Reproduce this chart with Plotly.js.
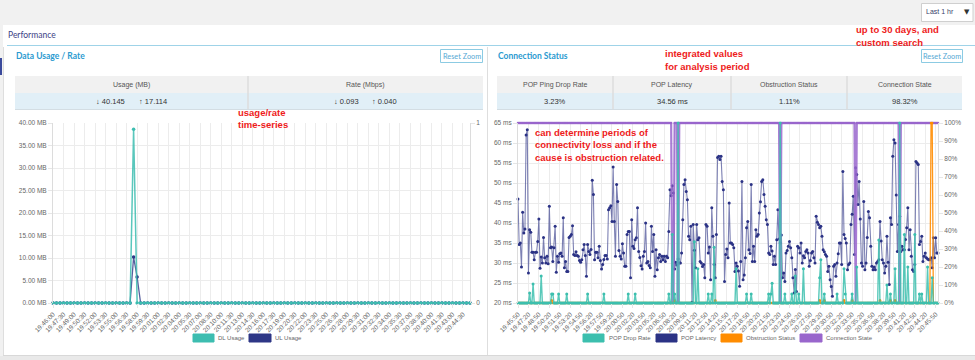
<!DOCTYPE html>
<html><head><meta charset="utf-8">
<script src="https://cdn.plot.ly/plotly-3.0.1.min.js"></script>
<style>html,body{margin:0;padding:0;background:#f1f1f1;overflow:hidden}#chart{width:975px;height:360px}</style>
</head><body><div id="chart"></div>
<script>
// ---------------- DATA ----------------
const usageTickLabels = ['19:46:00','19:47:30','19:49:00','19:50:30','19:52:00','19:53:30','19:55:00','19:56:30','19:58:00','19:59:30','20:01:00','20:02:30','20:04:00','20:05:30','20:07:00','20:08:30','20:10:00','20:11:30','20:13:00','20:14:30','20:16:00','20:17:30','20:19:00','20:20:30','20:22:00','20:23:30','20:25:00','20:26:30','20:28:00','20:29:30','20:31:00','20:32:30','20:34:00','20:35:30','20:37:00','20:38:30','20:40:00','20:41:30','20:43:00','20:44:30'];
const dlUsage = [
0,0,0,0,0,0,0,0,0,0,0,0,0,0,0,0,0,0,0,0,
0,0,0,38.6,0,0,0,0,0,0,0,0,0,0,0,0,0,0,0,0,
0,0,0,0,0,0,0,0,0,0,0,0,0,0,0,0,0,0,0,0,
0,0,0,0,0,0,0,0,0,0,0,0,0,0,0,0,0,0,0,0,
0,0,0,0,0,0,0,0,0,0,0,0,0,0,0,0,0,0,0,0,
0,0,0,0,0,0,0,0,0,0,0,0,0,0,0,0,0,0,0,0];
const ulUsage = [
0,0,0,0,0,0,0,0,0,0,0,0,0,0,0,0,0,0,0,0,
0,0,0,10.2,5.8,0,0,0,0,0,0,0,0,0,0,0,0,0,0,0,
0,0,0,0,0,0,0,0,0,0,0,0,0,0,0,0,0,0,0,0,
0,0,0,0,0,0,0,0,0,0,0,0,0,0,0,0,0,0,0,0,
0,0,0,0,0,0,0,0,0,0,0,0,0,0,0,0,0,0,0,0,
0,0,0,0,0,0,0,0,0,0,0,0,0,0,0,0,0,0,0,0];
const usageHeaders = ['Usage (MB)','Rate (Mbps)'];
const usageDown = ['40.145','0.093'];
const usageUp = ['17.114','0.040'];

const latencyTickLabels = ['19:45:50','19:47:20','19:48:50','19:50:20','19:51:50','19:53:20','19:54:50','19:56:20','19:57:50','19:59:20','20:00:50','20:02:20','20:03:50','20:05:20','20:06:50','20:08:20','20:09:50','20:11:20','20:12:50','20:14:20','20:15:50','20:17:20','20:18:50','20:20:20','20:21:50','20:23:20','20:24:50','20:26:20','20:27:50','20:29:20','20:30:50','20:32:20','20:33:50','20:35:20','20:36:50','20:38:20','20:39:50','20:41:20','20:42:50','20:44:20','20:45:50'];
const popLatency = [
46,34.6,35,29,42.7,37.5,38.5,62,63.3,27.5,38.3,37.7,32.7,32.7,30.8,32.7,32.7,35.4,41,28.7,
31.5,30,36.4,31.3,30,31.7,29.8,44.2,33.8,34,30.4,33.8,39.2,27.7,31.7,30.2,32.3,32.5,31.7,41.3,
28.8,30.4,27.9,27.9,36.4,36.7,37.1,39.3,32.1,31.9,32.8,31.9,31.7,30.6,30.2,30.8,33.3,34.6,
31.9,26.7,34.6,32.9,32.1,33.4,50.7,47.1,30.8,32.7,
32.7,31.3,34.2,30.6,28.5,29.6,30.9,31.9,31.9,31,
43.3,43.8,44.3,40.4,54,40.4,31.7,49.6,45.4,33.1,
31.7,31,34.8,32.5,29.2,29.2,37.1,37.9,37.9,26.3,
40.8,34.2,33.6,35.8,36.3,43.8,32.9,31.4,29.3,28.5,
31.7,32.9,40,30,30.4,29.4,28.8,39.2,32.9,37.1,
26.7,33.3,28.3,31.3,32.1,30.4,31.7,30.8,31.7,30.4,
31.7,31.3,37.9,48.3,46.8,49.3,
47.5,28.5,30.2,29.5,31,30,
30,32.5,40.8,49.6,50.8,47.9,45.8,36.7,35.8,39.2,
20.2,39.6,33.2,28.8,39.6,35.8,36.3,30.4,30,29.1,
29.6,26.3,39.6,39.2,32.5,34,25.8,43.8,36.7,29.6,
26.3,37.1,56.4,56.7,55.9,56.7,50.4,48.3,25.4,32.1,
33.5,31.3,45,35,35,34.6,33.8,27.9,30,29.2,
28,24.2,30.4,50.4,25.8,27,31.3,38.8,40.4,33.3,
32.4,49.6,30.4,34.2,30.4,38.3,36.7,37.1,42.5,45.3,
50.4,50.8,47.1,44.2,40.8,39.6,32.5,32.1,34.2,33,
29.6,31.7,29.6,35.8,43.3,36,
35,37,26.3,27.5,25.4,32.5,33.1,34.2,35.4,33.8,
31.3,26.3,22.5,28.4,22.9,34.2,33.8,32.5,35,30,
31.8,31.3,32.9,33.3,32.5,29.2,30.6,32.5,32.9,31.3,
30,41.7,40.2,39.6,38.8,39.2,36.7,33.3,32.8,32.1,
31.7,27.9,29.2,25.8,24.1,21.7,29.2,29.6,26.7,30,
32.3,35,35,29.6,52.9,37.1,36.1,35,28.3,29.6,
30,39.6,42.2,46.7,32.1,53.8,52.1,44.6,50.4,41,
30,29.2,45.4,28.3,30,36.4,42.9,41.3,34.2,29.2,
28.3,29,28.3,30,30.4,30.8,40.4,35.5,30.8,30,
27.5,29.2,36.7,30.2,24.6,41.3,39.6,56.7,60.8,60,
47,32.9,39.6,41.7,32.9,34.2,33.3,33.3,35.9,38.8,
43.8,33.3,38.3,31.7,28.3,27.9,29.6,55.4,55,54.6,
34.6,35.4,36.7,30.4,31.7,32.5,31.3,31,30.8,30.8,
31.3,28.8,36.3,31.3,36.3,32.5,32.5];
const popDropRate = [
0,0,0,0,0,0,0,0,0,0,5.5,0,0,10.5,0,0,0,0,0,0,
15,0,0,0,0,0,0,0,0,5,5,0,0,0,0,5,0,0,0,0,
0,0,5,0,0,0,0,0,0,0,0,0,0,0,0,0,0,0,0,0,
5,0,0,0,0,0,0,0,0,0,0,0,0,0,5,0,0,0,0,0,
0,0,0,0,0,0,0,0,0,0,0,0,0,0,0,5,0,0,0,0,
0,5,0,0,0,0,0,0,0,0,0,0,0,0,0,0,0,0,0,0,
0,0,0,0,0,0,0,0,0,0,5,0,0,38,0,5,0,0,100,0,
0,0,0,0,0,0,0,0,0,0,0,0,34,0,0,19,0,0,0,0,
0,0,0,0,5,0,0,5,0,31,0,0,0,0,0,0,0,0,0,0,
0,0,0,0,0,0,0,0,19,0,0,0,0,0,0,0,0,5,0,0,
0,5,0,0,0,0,0,0,0,0,0,0,0,0,0,0,5,0,5,11,
0,0,0,0,0,0,100,0,0,0,5,0,0,0,0,0,5,0,0,15,
0,0,5,0,0,0,19,0,0,0,0,0,0,0,0,0,0,0,0,0,
14,24,0,0,5,0,0,0,0,0,0,0,0,0,0,5,0,0,0,0,
0,19,5,0,0,0,0,0,5,0,0,0,20,0,0,0,0,0,0,0,
0,0,0,0,0,0,0,0,0,0,0,35,0,0,0,0,0,0,10,0,
0,5,0,0,0,19,0,0,0,100,0,0,0,38,0,0,20,0,0,0,
0,0,38,0,0,0,5,0,5,0,0,0,0,20,0,0,0,14,0,0,
0,0,0];
const obstructionStatus = [
0,0,0,0,0,0,0,0,0,0,0,0,0,0,0,0,0,0,0,0,
0,0,0,0,0,0,0,0,0,1.5,0,0,0,0,0,0,0,0,0,0,
0,0,0,0,0,0,0,0,0,0,0,0,0,0,0,0,0,0,0,0,
0,0,0,0,0,0,0,0,0,0,0,0,0,0,0,0,0,0,0,0,
0,0,0,0,0,0,0,0,0,0,0,0,0,0,0,0,0,0,0,0,
0,0,0,0,0,0,0,0,0,0,0,0,0,0,0,0,0,0,0,0,
0,0,0,0,0,0,0,0,0,0,0,0,0,0,0,1.5,0,0,0,0,
0,0,0,0,0,0,0,0,0,0,0,0,0,0,0,0,0,0,0,0,
0,0,0,0,0,0,0,0,0,0,1.5,0,0,0,0,0,0,0,0,0,
0,0,0,0,0,0,0,0,0,0,0,0,0,0,0,0,0,0,0,0,
0,0,0,0,0,0,0,0,0,0,0,0,0,0,0,0,0,0,0,0,
0,0,0,0,0,0,0,0,0,0,0,0,0,0,0,0,0,0,0,0,
0,0,0,0,0,0,0,0,0,0,0,0,0,0,0,0,0,0,0,0,
1.5,0,0,0,1.5,0,0,0,0,0,0,0,0,0,0,0,0,0,0,0,
0,1.5,0,0,0,0,0,0,1.5,0,0,0,0,0,0,0,0,0,0,0,
0,0,0,0,0,0,0,0,0,0,0,0,1.5,0,0,0,0,0,0,0,
0,1.5,0,0,0,1.5,0,0,0,0,0,0,0,0,0,0,0,0,0,0,
0,0,0,0,0,0,0,0,0,0,0,0,0,0,0,0,100,100,0,0,
0,0,0];
const connectionState = [
100,100,100,100,100,100,100,100,100,100,100,100,100,100,100,100,100,100,100,100,
100,100,100,100,100,100,100,100,100,100,100,100,100,100,100,100,100,100,100,100,
100,100,100,100,100,100,100,100,100,100,100,100,100,100,100,100,100,100,100,100,
100,100,100,100,100,100,100,100,100,100,100,100,100,100,100,100,100,100,100,100,
100,100,100,100,100,100,100,100,100,100,100,100,100,100,100,100,100,100,100,100,
100,100,100,100,100,100,100,100,100,100,100,100,100,100,100,100,100,100,100,100,
100,100,100,100,100,100,100,100,100,100,100,100,100,0,0,100,100,100,0,100,
100,100,100,100,100,100,100,100,100,100,100,100,100,100,100,100,100,100,100,100,
100,100,100,100,100,100,100,100,100,100,100,100,100,100,100,100,100,100,100,100,
100,100,100,100,100,100,100,100,100,100,100,100,100,100,100,100,100,100,100,100,
100,100,100,100,100,100,100,100,100,100,100,100,100,100,100,100,100,100,100,100,
100,100,100,100,100,100,0,100,100,100,100,100,100,100,100,100,100,100,100,100,
100,100,100,100,100,100,100,100,100,100,100,100,100,100,100,100,100,100,100,100,
100,100,100,100,100,100,100,100,100,100,100,100,100,100,100,100,100,100,100,100,
100,100,100,100,100,100,100,100,100,100,100,0,100,100,100,100,100,100,100,100,
100,100,100,100,100,100,100,100,100,100,100,100,100,100,100,100,100,100,100,100,
100,100,100,100,100,100,100,100,100,0,100,100,100,100,100,100,100,100,100,100,
100,100,100,100,100,100,100,100,100,100,100,100,100,100,100,100,100,100,100,100,
100,100,100];
const statusHeaders = ['POP Ping Drop Rate','POP Latency','Obstruction Status','Connection State'];
const statusValues = ['3.23%','34.56 ms','1.11%','98.32%'];

// ---------------- LAYOUT HELPERS ----------------
const W = 975, H = 360;
const fx = v => v / W, fy = v => 1 - v / H;
const TICKFONT = 'Liberation Sans, Arial, sans-serif';
const UIFONT = 'Lato, Open Sans, sans-serif';
const REDFONT = 'Liberation Sans, Arial, sans-serif';
const C = {dl:'#3dbdb0', ul:'#2e3786', drop:'#3cbfae', lat:'#2b3285', obs:'#ff8c00', conn:'#9966cc'};

function box(x0, y0, x1, y1, fill, stroke, sw) {
  return {type:'rect', xref:'paper', yref:'paper', x0:fx(x0), x1:fx(x1), y0:fy(y1), y1:fy(y0),
    fillcolor: fill || 'rgba(0,0,0,0)', line:{color: stroke || 'rgba(0,0,0,0)', width: stroke ? (sw || 1) : 0}, layer:'below'};
}
function seg(x0, y0, x1, y1, color, w) {
  return {type:'line', xref:'paper', yref:'paper', x0:fx(x0), x1:fx(x1), y0:fy(y0), y1:fy(y1), line:{color, width:w || 1}, layer:'below'};
}
function label(x, y, text, o) {
  o = o || {};
  return {xref:'paper', yref:'paper', x:fx(x), y:fy(y), text, showarrow:false, xanchor:o.anchor || 'left', yanchor:'middle',
    borderpad:0, font:{family:o.family || UIFONT, size:o.size || 7.5, color:o.color || '#555'}};
}

const shapes = [
  box(3, 25, 975, 356, '#ffffff'),
  box(0, 356, 975, 360, '#e9e9e9'),
  seg(3.5, 47, 3.5, 355.5, '#dedede'),
  seg(487.5, 47, 487.5, 355.5, '#dedede'),
  seg(3, 355.5, 975, 355.5, '#d8d8d8'),
  seg(7, 45.5, 975, 45.5, '#9fd3e8'),
  box(0, 58, 2, 75, '#3b4a9c'),
  box(921.5, 3.5, 973, 21.5, '#ffffff', '#cfcfcf', 1),
  box(440.5, 49.5, 482.5, 62.5, '#ffffff', '#8ccbe3', 1),
  box(921.5, 49.5, 962.5, 62.5, '#ffffff', '#8ccbe3', 1),
  // tables
  box(15, 76, 483, 93, '#f1f1f1'), box(15, 93, 483, 109, '#e1eff7'),
  seg(15, 109.5, 483, 109.5, '#d3dde3'), seg(248, 76, 248, 109, '#dcdcdc', 1.5),
  box(497, 76, 962, 93, '#f1f1f1'), box(497, 93, 962, 109, '#e1eff7'),
  seg(497, 109.5, 962, 109.5, '#d3dde3'),
  seg(613, 76, 613, 109, '#dcdcdc', 1.5), seg(731, 76, 731, 109, '#dcdcdc', 1.5), seg(847, 76, 847, 109, '#dcdcdc', 1.5),
  // legends
  box(193, 334, 214, 342, C.dl, C.dl, 1), box(249, 334, 271, 342, C.ul, C.ul, 1),
  box(583, 334, 604, 342, C.drop, C.drop, 1), box(656, 334, 677, 342, C.lat, C.lat, 1),
  box(721, 334, 742, 342, C.obs, C.obs, 1), box(800, 334, 822, 342, C.conn, C.conn, 1)
];

const RED = '#ee1b1b';
const RS = 9.5;
const LEG = {size:6, color:'#666', family:TICKFONT};
const annotations = [
  label(925, 12, 'Last 1 hr', {size:7, color:'#3a3f6a', family:TICKFONT}),
  label(967, 12, '▼', {size:7, color:'#333', anchor:'center', family:'DejaVu Sans'}),
  label(7, 35, 'Performance', {size:8.5, color:'#3d3f86'}),
  label(15, 56, '<b>Data Usage / Rate</b>', {size:8.5, color:'#2a9ad0'}),
  label(497, 56, '<b>Connection Status</b>', {size:8.5, color:'#2a9ad0'}),
  label(461.5, 56, 'Reset Zoom', {size:7.3, color:'#55a9d4', anchor:'center'}),
  label(942, 56, 'Reset Zoom', {size:7.3, color:'#55a9d4', anchor:'center'}),
  label(131.5, 84.5, usageHeaders[0], {anchor:'center', size:7, family:TICKFONT}),
  label(365.5, 84.5, usageHeaders[1], {anchor:'center', size:7, family:TICKFONT}),
  label(110, 101, '↓ ' + usageDown[0], {anchor:'center', size:7.5, color:'#333', family:TICKFONT}),
  label(153, 101, '↑ ' + usageUp[0], {anchor:'center', size:7.5, color:'#333', family:TICKFONT}),
  label(346, 101, '↓ ' + usageDown[1], {anchor:'center', size:7.5, color:'#333', family:TICKFONT}),
  label(384, 101, '↑ ' + usageUp[1], {anchor:'center', size:7.5, color:'#333', family:TICKFONT}),
  // red notes
  label(237, 112, '<b>usage/rate</b>', {size:RS, color:RED, family:REDFONT}),
  label(237, 124.5, '<b>time-series</b>', {size:RS, color:RED, family:REDFONT}),
  label(664, 53, '<b>integrated values</b>', {size:RS, color:RED, family:REDFONT}),
  label(664, 66, '<b>for analysis period</b>', {size:RS, color:RED, family:REDFONT}),
  label(855, 29.5, '<b>up to 30 days, and</b>', {size:RS, color:RED, family:REDFONT}),
  label(855, 42, '<b>custom search</b>', {size:RS, color:RED, family:REDFONT}),
  label(534, 132, '<b>can determine periods of</b>', {size:RS, color:RED, family:REDFONT}),
  label(534, 144.5, '<b>connectivity loss and if the</b>', {size:RS, color:RED, family:REDFONT}),
  label(534, 157, '<b>cause is obstruction related.</b>', {size:RS, color:RED, family:REDFONT}),
  // legend labels
  label(217, 338, 'DL Usage', LEG),
  label(274, 338, 'UL Usage', LEG),
  label(608, 338, 'POP Drop Rate', LEG),
  label(680, 338, 'POP Latency', LEG),
  label(745, 338, 'Obstruction Status', LEG),
  label(825, 338, 'Connection State', LEG)
];
statusHeaders.forEach((h, i) => {
  const cx = [555, 672, 789, 904.5][i];
  annotations.push(label(cx, 84.5, h, {anchor:'center', size:7, family:TICKFONT}));
  annotations.push(label(cx, 101, statusValues[i], {anchor:'center', size:7.5, color:'#333', family:TICKFONT}));
});

// ---------------- TRACES ----------------
const usagePointsPerTick = 3, latencyPointsPerTick = 9;
const usageTickVals = usageTickLabels.map((_, i) => i * usagePointsPerTick);
const latencyTickVals = latencyTickLabels.map((_, i) => i * latencyPointsPerTick);

const traces = [
  {type:'scatter', mode:'lines', x:[], y:[], xaxis:'x', yaxis:'y2', showlegend:false, hoverinfo:'skip'},
  {type:'scatter', mode:'lines+markers', name:'UL Usage', y:ulUsage, xaxis:'x', yaxis:'y', cliponaxis:false,
    line:{color:'rgba(46,55,134,0.8)', width:1.3}, marker:{color:C.ul, size:3.5}},
  {type:'scatter', mode:'lines+markers', name:'DL Usage', y:dlUsage, xaxis:'x', yaxis:'y', cliponaxis:false,
    line:{color:'rgba(61,189,176,0.85)', width:1.5}, marker:{color:C.dl, size:3.5}},
  {type:'scatter', mode:'lines+markers', name:'Connection State', y:connectionState, xaxis:'x2', yaxis:'y4', cliponaxis:false,
    line:{color:'rgba(153,102,204,0.85)', width:2.2}, marker:{color:C.conn, size:2.5}},
  {type:'scatter', mode:'lines+markers', name:'Obstruction Status', y:obstructionStatus, xaxis:'x2', yaxis:'y4', cliponaxis:false,
    line:{color:'rgba(255,140,0,0.9)', width:1.3}, marker:{color:C.obs, size:2.5}},
  {type:'scatter', mode:'lines+markers', name:'POP Latency', y:popLatency, xaxis:'x2', yaxis:'y3', cliponaxis:false,
    line:{color:'rgba(43,50,133,0.62)', width:1.1}, marker:{color:C.lat, size:3}},
  {type:'scatter', mode:'lines+markers', name:'POP Drop Rate', y:popDropRate, xaxis:'x2', yaxis:'y4', cliponaxis:false,
    line:{color:'rgba(60,191,174,0.85)', width:1.4}, marker:{color:C.drop, size:3}}
];

const tickFont = {family:TICKFONT, size:6.5, color:'#666'};
const gridC = '#ececec';
const commonY = {zeroline:false, showline:true, linecolor:'#dcdcdc', linewidth:1, ticks:'outside', ticklen:4, tickcolor:'#e6e6e6', tickfont:tickFont, fixedrange:true};
const commonX = {type:'linear', tickmode:'array', tickangle:-45, tickfont:tickFont, showgrid:true, gridcolor:gridC, gridwidth:1,
  zeroline:false, showline:false, ticks:'outside', ticklen:4, tickcolor:'#e6e6e6', fixedrange:true};

const layout = {
  width:W, height:H, margin:{l:0, r:0, t:0, b:0, pad:0},
  paper_bgcolor:'#f1f1f1', plot_bgcolor:'rgba(0,0,0,0)', showlegend:false,
  font:{family:TICKFONT, size:7, color:'#666'},
  xaxis: Object.assign({}, commonX, {domain:[fx(53), fx(470)], anchor:'y', range:[0, dlUsage.length - 1],
    tickvals:usageTickVals, ticktext:usageTickLabels}),
  yaxis: Object.assign({}, commonY, {domain:[fy(303), fy(123)], anchor:'x', range:[0, 40], dtick:5, tickformat:'.2f', ticksuffix:' MB',
    showgrid:true, gridcolor:gridC}),
  yaxis2: Object.assign({}, commonY, {overlaying:'y', side:'right', anchor:'x', range:[0, 1], tickmode:'array', tickvals:[0, 1], showgrid:false}),
  xaxis2: Object.assign({}, commonX, {domain:[fx(518), fx(938)], anchor:'y3', range:[0, popLatency.length - 1],
    tickvals:latencyTickVals, ticktext:latencyTickLabels}),
  yaxis3: Object.assign({}, commonY, {domain:[fy(303), fy(123)], anchor:'x2', range:[20, 65], dtick:5, ticksuffix:' ms',
    showgrid:true, gridcolor:gridC}),
  yaxis4: Object.assign({}, commonY, {overlaying:'y3', side:'right', anchor:'x2', range:[0, 100], dtick:10, ticksuffix:'%', showgrid:false}),
  shapes, annotations
};

Plotly.newPlot('chart', traces, layout, {displayModeBar:false, staticPlot:true});
</script>
</body></html>
